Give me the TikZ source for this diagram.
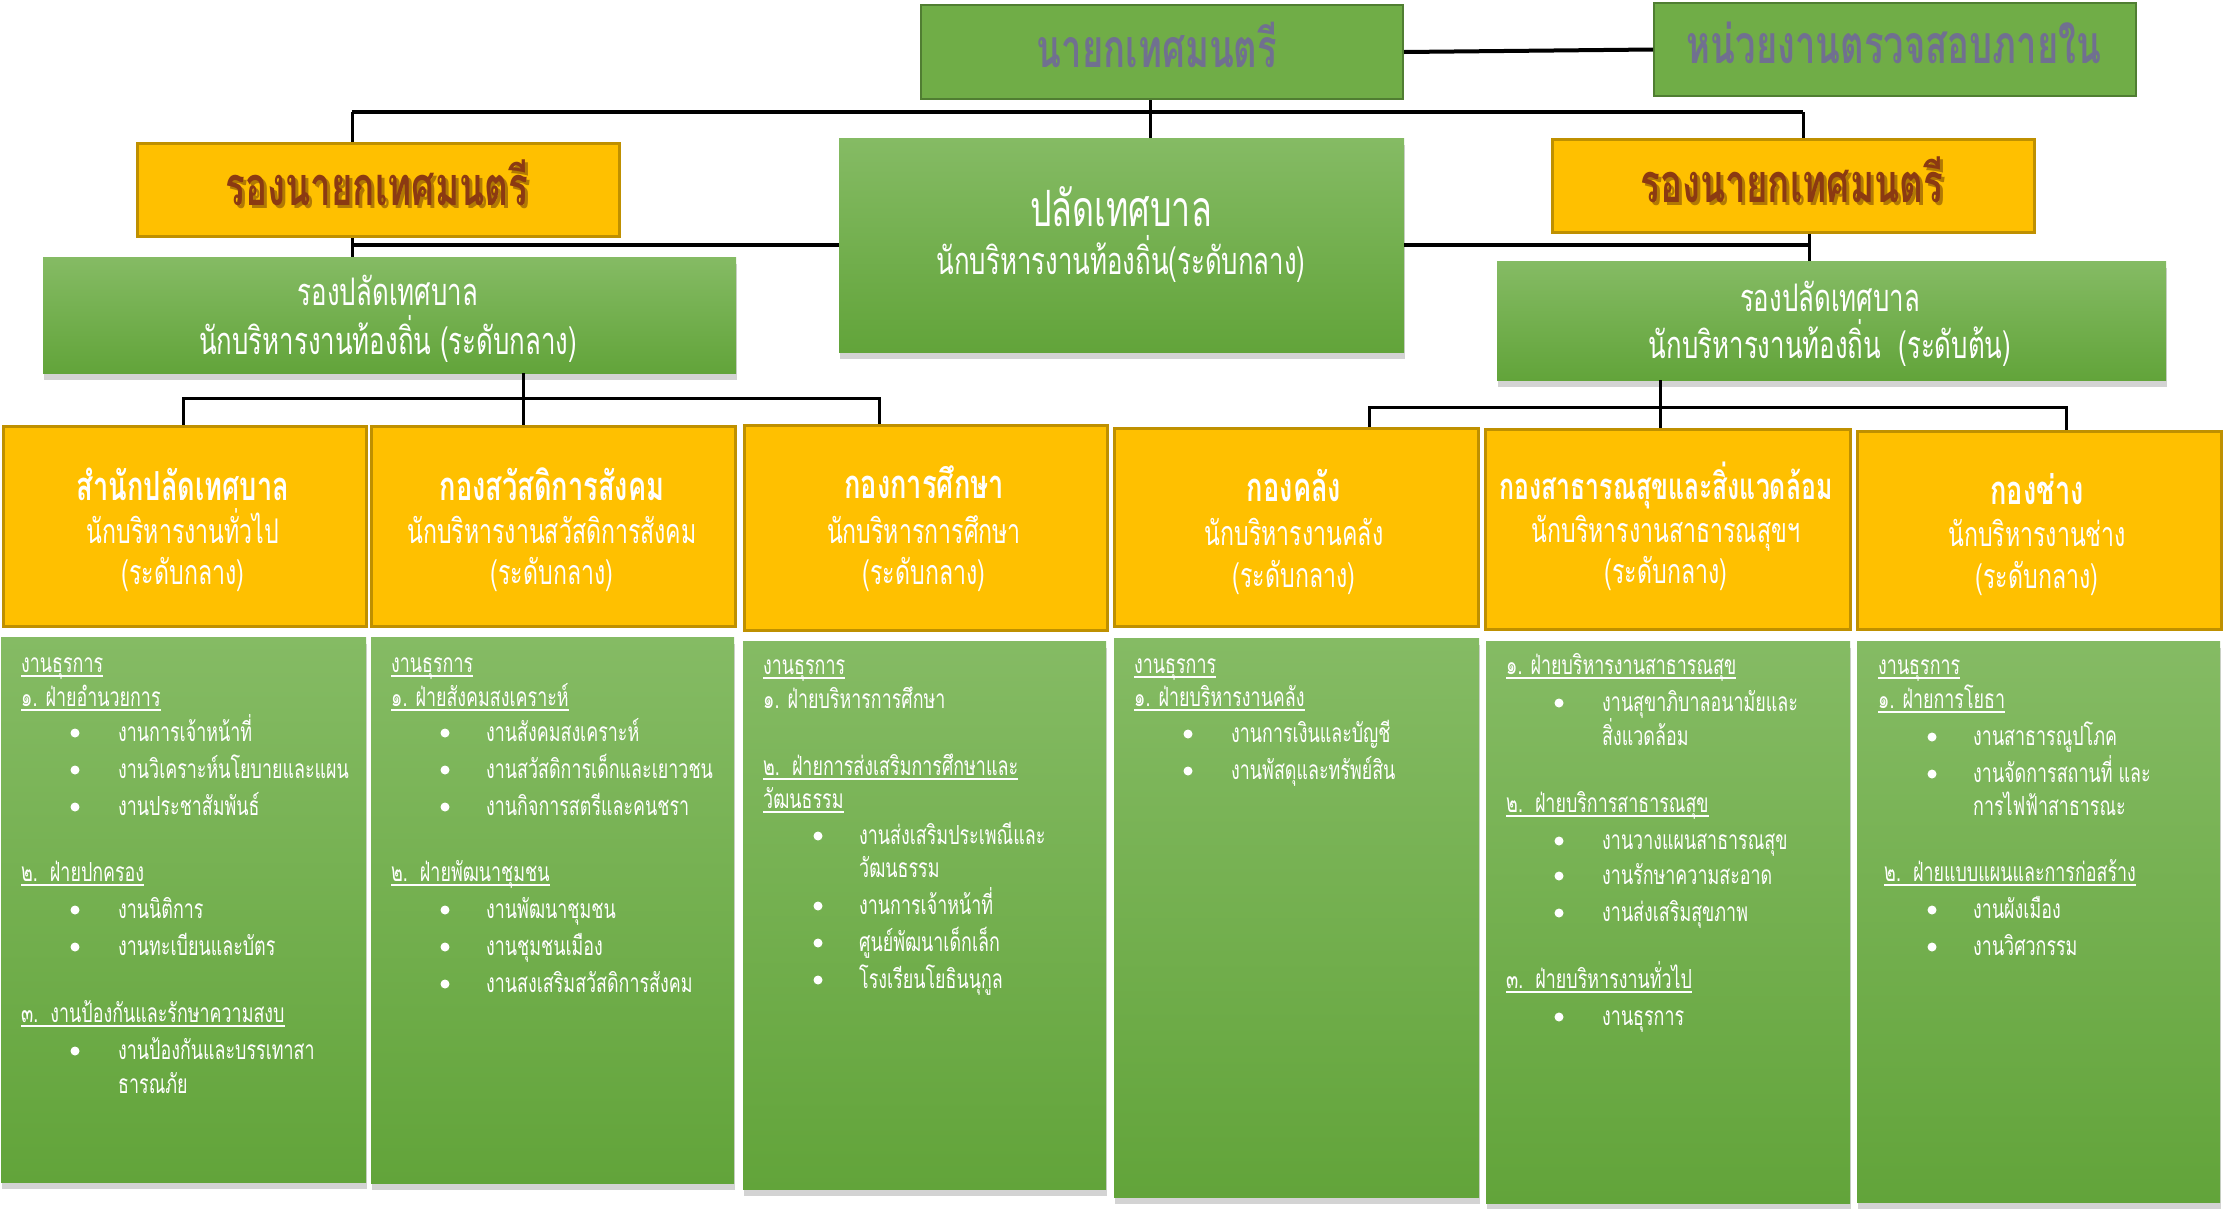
\documentclass[tikz,border=0pt]{standalone}
\usepackage{fontspec}
\usetikzlibrary{shadows}
\newfontfamily\thai[Script=Thai,FakeStretch=0.68]{Loma}
\definecolor{gA}{HTML}{70AD47}
\definecolor{gB}{HTML}{507E32}
\definecolor{gTop}{HTML}{85BB64}
\definecolor{gBot}{HTML}{62A43A}
\definecolor{yA}{HTML}{FFC000}
\definecolor{yB}{HTML}{BF9000}
\definecolor{brn}{HTML}{8B3A12}
\definecolor{topt}{HTML}{707090}
\newcounter{ln}
\newcommand\myul[1]{\setbox0\hbox{#1}\rlap{\rule[-5pt]{\wd0}{1.6pt}}\box0}
\newcommand\Hd[3]{\stepcounter{ln}\node[lst] (h\arabic{ln}) at (#1,{#2+8}) {\myul{#3}};}
\newcommand\Tx[3]{\stepcounter{ln}\node[lst] (x\arabic{ln}) at (#1,{#2+8}) {#3};}
\newcommand\Bu[4]{\stepcounter{ln}\node[bul] (b\arabic{ln}) at (#1,#3) {};\node[lst] (t\arabic{ln}) at (#2,{#3+8}) {#4};}
\newcommand\Bx[6]{\node[#2,anchor=north west,minimum width=#5,minimum height=#6,inner sep=0] (#1) at (#3,#4) {};}
\tikzset{
  topbox/.style={draw=gB,line width=2pt,fill=gA},
  yel/.style={draw=yB,line width=2.5pt,fill=yA},
  grad/.style={top color=gTop,bottom color=gBot,draw=none,drop shadow={shadow xshift=1pt,shadow yshift=-7pt,opacity=0.35}},
  conn/.style={line width=3pt,black},
  lst/.style={text=white,font=\thai\fontsize{26.3}{28}\selectfont,anchor=base west,inner sep=0},
  bul/.style={circle,fill=white,inner sep=0,minimum size=9},
  dh/.style={text=white,font=\thai\bfseries\fontsize{40}{42}\selectfont,anchor=base,inner sep=0},
  ds/.style={text=white,font=\thai\fontsize{34}{36}\selectfont,anchor=base,inner sep=0},
  big/.style={text=white,font=\thai\fontsize{38}{40}\selectfont,anchor=base,inner sep=0},
  ttl/.style={text=topt,font=\thai\bfseries\fontsize{53.5}{55}\selectfont,anchor=base,inner sep=0},
  vml/.style={text=brn,font=\thai\bfseries\fontsize{54}{56}\selectfont,anchor=base,inner sep=0},
  vmsh/.style={vml,text=brn!60!black,opacity=0.45},
}
\begin{document}
\begin{tikzpicture}[x=1pt,y=-1pt]
\useasboundingbox (0,0) rectangle (2223,1208);
% boxes
\Bx{mayor}{topbox}{920}{4}{482}{94}
\Bx{audit}{topbox}{1653}{2}{482}{93}
\Bx{vmL}{yel}{136}{142}{482}{93}
\Bx{vmR}{yel}{1551}{138}{482}{93}
\Bx{palad}{grad}{839}{138}{565}{214}
\Bx{dpL}{grad}{43}{257}{693}{116}
\Bx{dpR}{grad}{1497}{261}{669}{119}
\Bx{d1}{yel}{2}{425}{363}{200}
\Bx{d2}{yel}{370}{425}{364}{200}
\Bx{d3}{yel}{743}{424}{363}{205}
\Bx{d4}{yel}{1113}{427}{364}{198}
\Bx{d5}{yel}{1484}{428}{365}{200}
\Bx{d6}{yel}{1856}{430}{364}{198}
\Bx{g1}{grad}{1}{637}{365}{545}
\Bx{g2}{grad}{371}{637}{363}{546}
\Bx{g3}{grad}{743}{641}{363}{548}
\Bx{g4}{grad}{1114}{638}{365}{559}
\Bx{g5}{grad}{1486}{641}{364}{562}
\Bx{g6}{grad}{1857}{641}{363}{561}
% connectors
\draw[conn,line width=4pt] (mayor.east) -- (audit.west);
\coordinate (busL) at (352,112);
\coordinate (busR) at (1803,112);
\coordinate (mx) at (1150,0);
\draw[conn,line width=4pt] (busL) -- (busR);
\draw[conn] (busL) -- (busL |- vmL.north);
\draw[conn] (busR) -- (busR |- vmR.north);
\draw[conn] (mayor.south -| mx) -- (palad.north -| mx);
\coordinate (jL) at (352,247);
\coordinate (jR) at (1809,249);
\draw[conn] (vmL.south -| jL) -- (dpL.north -| jL);
\draw[conn,line width=4pt] (palad.west) -- (palad.west -| jL);
\draw[conn] (vmR.south -| jR) -- (dpR.north -| jR);
\draw[conn,line width=4pt] (palad.east) -- (palad.east -| jR);
\coordinate (kL) at (523,398);
\coordinate (kL1) at (183,398);
\coordinate (kL3) at (879,398);
\draw[conn] (dpL.south -| kL) -- (d2.north -| kL);
\draw[conn] (kL1 |- d1.north) -- (kL1) -- (kL3) -- (kL3 |- d3.north);
\coordinate (kR) at (1660,407);
\coordinate (kR1) at (1369,407);
\coordinate (kR2) at (2066,407);
\draw[conn] (dpR.south -| kR) -- (d5.north -| kR);
\draw[conn] (kR1 |- d4.north) -- (kR1) -- (kR2) -- (kR2 |- d6.north);
% top texts
\node[ttl] (mayorT) at (1157,67) {นายกเทศมนตรี};
\node[ttl] (auditT) at (1894,63) {หน่วยงานตรวจสอบภายใน};
\node[vmsh] (vmLS) at (380,208) {รองนายกเทศมนตรี};
\node[vml] (vmLT) at (377,205) {รองนายกเทศมนตรี};
\node[vmsh] (vmRS) at (1795,205) {รองนายกเทศมนตรี};
\node[vml] (vmRT) at (1792,202) {รองนายกเทศมนตรี};
\node[font=\thai\fontsize{50}{52}\selectfont,text=white,anchor=base,inner sep=0] (paladT) at (1121,226) {ปลัดเทศบาล};
\node[big] (paladS) at (1121,274) {นักบริหารงานท้องถิ่น(ระดับกลาง)};
\node[big] (dpLT) at (388,305) {รองปลัดเทศบาล};
\node[big] (dpLS) at (388,354) {นักบริหารงานท้องถิ่น (ระดับกลาง)};
\node[big] (dpRT) at (1830,311) {รองปลัดเทศบาล};
\node[big] (dpRS) at (1830,358) {นักบริหารงานท้องถิ่น\ \ (ระดับต้น)};
% department texts
\node[dh] (d1h) at (183,500) {สำนักปลัดเทศบาล};
\node[ds] (d1s) at (183,543) {นักบริหารงานทั่วไป};
\node[ds] (d1l) at (183,584) {(ระดับกลาง)};
\node[dh] (d2h) at (552,500) {กองสวัสดิการสังคม};
\node[ds] (d2s) at (552,543) {นักบริหารงานสวัสดิการสังคม};
\node[ds] (d2l) at (552,584) {(ระดับกลาง)};
\node[dh] (d3h) at (924,498) {กองการศึกษา};
\node[ds] (d3s) at (924,543) {นักบริหารการศึกษา};
\node[ds] (d3l) at (924,584) {(ระดับกลาง)};
\node[dh] (d4h) at (1294,501) {กองคลัง};
\node[ds] (d4s) at (1294,545) {นักบริหารงานคลัง};
\node[ds] (d4l) at (1294,587) {(ระดับกลาง)};
\node[dh,font=\thai\bfseries\fontsize{36.5}{38}\selectfont] (d5h) at (1666,499) {กองสาธารณสุขและสิ่งแวดล้อม};
\node[ds] (d5s) at (1666,542) {นักบริหารงานสาธารณสุขฯ};
\node[ds] (d5l) at (1666,583) {(ระดับกลาง)};
\node[dh] (d6h) at (2037,504) {กองช่าง};
\node[ds] (d6s) at (2037,546) {นักบริหารงานช่าง};
\node[ds] (d6l) at (2037,588) {(ระดับกลาง)};
% box 1
\Hd{21}{664}{งานธุรการ}
\Hd{21}{698}{๑. ฝ่ายอำนวยการ}
\Bu{75}{118}{733}{งานการเจ้าหน้าที่}
\Bu{75}{118}{770}{งานวิเคราะห์นโยบายและแผน}
\Bu{75}{118}{807}{งานประชาสัมพันธ์}
\Hd{21}{873}{๒.\ \ ฝ่ายปกครอง}
\Bu{75}{118}{910}{งานนิติการ}
\Bu{75}{118}{947}{งานทะเบียนและบัตร}
\Hd{21}{1014}{๓.\ \ งานป้องกันและรักษาความสงบ}
\Bu{75}{118}{1051}{งานป้องกันและบรรเทาสา}
\Tx{118}{1085}{ธารณภัย}
% box 2
\Hd{391}{664}{งานธุรการ}
\Hd{391}{698}{๑. ฝ่ายสังคมสงเคราะห์}
\Bu{445}{486}{733}{งานสังคมสงเคราะห์}
\Bu{445}{486}{770}{งานสวัสดิการเด็กและเยาวชน}
\Bu{445}{486}{807}{งานกิจการสตรีและคนชรา}
\Hd{391}{873}{๒.\ \ ฝ่ายพัฒนาชุมชน}
\Bu{445}{486}{910}{งานพัฒนาชุมชน}
\Bu{445}{486}{947}{งานชุมชนเมือง}
\Bu{445}{486}{984}{งานสงเสริมสวัสดิการสังคม}
% box 3
\Hd{763}{666}{งานธุรการ}
\Tx{763}{700}{๑. ฝ่ายบริหารการศึกษา}
\Hd{763}{767}{๒.\ \ ฝ่ายการส่งเสริมการศึกษาและ}
\Hd{763}{800}{วัฒนธรรม}
\Bu{818}{859}{836}{งานส่งเสริมประเพณีและ}
\Tx{859}{869}{วัฒนธรรม}
\Bu{818}{859}{906}{งานการเจ้าหน้าที่}
\Bu{818}{859}{943}{ศูนย์พัฒนาเด็กเล็ก}
\Bu{818}{859}{980}{โรงเรียนโยธินนุกูล}
% box 4
\Hd{1134}{665}{งานธุรการ}
\Hd{1134}{698}{๑. ฝ่ายบริหารงานคลัง}
\Bu{1188}{1231}{734}{งานการเงินและบัญชี}
\Bu{1188}{1231}{771}{งานพัสดุและทรัพย์สิน}
% box 5
\Hd{1506}{666}{๑. ฝ่ายบริหารงานสาธารณสุข}
\Bu{1559}{1602}{703}{งานสุขาภิบาลอนามัยและ}
\Tx{1602}{737}{สิ่งแวดล้อม}
\Hd{1506}{804}{๒.\ \ ฝ่ายบริการสาธารณสุข}
\Bu{1559}{1602}{841}{งานวางแผนสาธารณสุข}
\Bu{1559}{1602}{876}{งานรักษาความสะอาด}
\Bu{1559}{1602}{913}{งานส่งเสริมสุขภาพ}
\Hd{1506}{980}{๓.\ \ ฝ่ายบริหารงานทั่วไป}
\Bu{1559}{1602}{1017}{งานธุรการ}
% box 6
\Hd{1878}{666}{งานธุรการ}
\Hd{1878}{700}{๑. ฝ่ายการโยธา}
\Bu{1932}{1973}{737}{งานสาธารณูปโภค}
\Bu{1932}{1973}{774}{งานจัดการสถานที่ และ}
\Tx{1973}{807}{การไฟฟ้าสาธารณะ}
\Hd{1884}{873}{๒.\ \ ฝ่ายแบบแผนและการก่อสร้าง}
\Bu{1932}{1973}{910}{งานผังเมือง}
\Bu{1932}{1973}{947}{งานวิศวกรรม}
\end{tikzpicture}
\end{document}
